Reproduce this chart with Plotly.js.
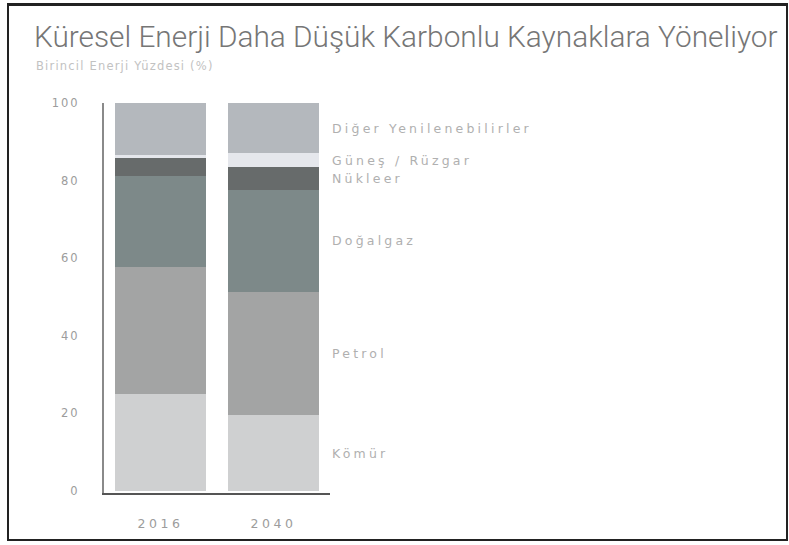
<!DOCTYPE html>
<html>
<head>
<meta charset="utf-8">
<script src="https://cdn.plot.ly/plotly-3.0.1.min.js"></script>
<style>
  html, body { margin: 0; padding: 0; background: #fff; }
  #frame { position: absolute; left: 7px; top: 3px; width: 777px; height: 533px; border: 2px solid #222; border-top-width: 3px; }
  #chart { position: absolute; left: 0; top: 0; width: 789px; height: 545px; }
</style>
</head>
<body>
<div id="chart"></div>
<div id="frame"></div>
<script>
// Data
const years = ['2016', '2040'];
const seriesNames = ['Kömür', 'Petrol', 'Doğalgaz', 'Nükleer', 'Güneş / Rüzgar', 'Diğer Yenilenebilirler'];
const komur   = [25.0, 19.6];
const petrol  = [32.7, 31.7];
const dogalgaz = [23.5, 26.3];
const nukleer = [4.6, 5.9];
const gunes   = [0.8, 3.6];
const diger   = [13.4, 12.9];
const yTicks = [0, 20, 40, 60, 80, 100];
const titleText = 'Küresel Enerji Daha Düşük Karbonlu Kaynaklara Yöneliyor';
const subtitleText = 'Birincil Enerji Yüzdesi (%)';

const values = [komur, petrol, dogalgaz, nukleer, gunes, diger];
const colors = ['#cfd0d1', '#a3a4a4', '#7d8989', '#676b6b', '#e5e7ec', '#b4b8bd'];

const spaced = (t, px) => '<span style="letter-spacing:' + px + 'px">' + t + '</span>';

const traces = values.map((v, i) => ({
  type: 'bar',
  x: years,
  y: v,
  name: seriesNames[i],
  marker: { color: colors[i], line: { width: 0 } },
  hoverinfo: 'skip'
}));

// labels beside the last (2040) bar, at each segment's midpoint
const lastIdx = years.length - 1;
const annotations = [];
let base = 0;
values.forEach((v, i) => {
  const last = v[lastIdx];
  annotations.push({
    x: lastIdx, y: base + last / 2,
    xref: 'x', yref: 'y',
    text: spaced(seriesNames[i], 3.2), showarrow: false,
    xanchor: 'left', yanchor: 'middle', xshift: 56,
    font: { family: 'DejaVu Sans', size: 12.5, color: '#b0b0b0' }
  });
  base += last;
});
annotations.push({
  xref: 'paper', yref: 'paper', x: -0.31, y: 1.095,
  xanchor: 'left', yanchor: 'middle', showarrow: false,
  text: spaced(subtitleText, 1.2),
  font: { family: 'DejaVu Sans', size: 11.5, color: '#c2c2c2' }
});

const layout = {
  width: 789, height: 545,
  margin: { l: 104, r: 459, t: 103, b: 52 },
  paper_bgcolor: '#fff', plot_bgcolor: '#fff',
  barmode: 'stack', bargap: 0.2,
  showlegend: false,
  title: {
    text: titleText,
    x: 0.043, xanchor: 'left', xref: 'container',
    y: 0.932, yanchor: 'middle', yref: 'container',
    font: { family: 'Roboto', size: 29.8, weight: 300, color: '#767676' }
  },
  xaxis: {
    type: 'category',
    range: [-0.5, 1.5],
    tickvals: years, ticktext: years.map(t => spaced(t, 3.5)),
    showline: true, linecolor: '#555', linewidth: 2,
    ticks: '', showgrid: false, zeroline: false,
    ticklabelstandoff: 18,
    tickfont: { family: 'DejaVu Sans', size: 12.5, color: '#9c9c9c' },
    fixedrange: true
  },
  yaxis: {
    range: [-0.5, 100],
    tickvals: yTicks, ticktext: yTicks.map(t => spaced(String(t), 2)),
    showline: true, linecolor: '#8a8a8a', linewidth: 2,
    ticks: '', showgrid: false, zeroline: false,
    ticklabelstandoff: 20,
    tickfont: { family: 'DejaVu Sans', size: 11.5, color: '#9c9c9c' },
    fixedrange: true
  },
  annotations: annotations
};

Plotly.newPlot('chart', traces, layout, { displayModeBar: false, staticPlot: true });
</script>
</body>
</html>
